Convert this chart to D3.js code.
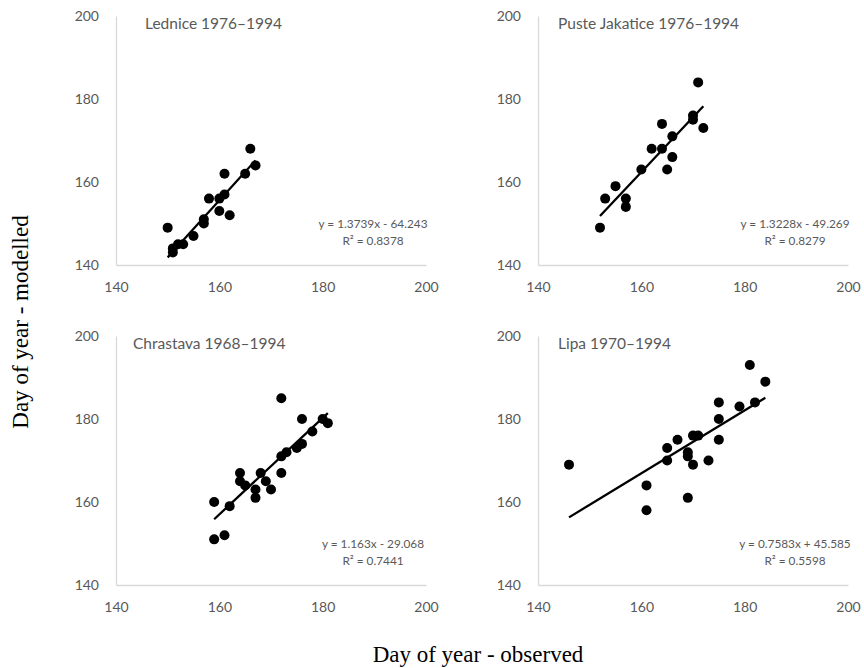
<!DOCTYPE html>
<html>
<head>
	<meta charset="utf-8" />
	<title>Day of year - observed vs modelled</title>
	<style type="text/css">
		*{margin:0px;padding:0px;}
		body{background:#fff;}
		svg text{fill:#595959;}
		.axis-title{font-family:"Liberation Serif", "DejaVu Serif", serif;fill:#000;}
	</style>
</head>
<body>
	<script type="text/javascript" src="https://cdn.jsdelivr.net/npm/d3@7"></script>
	<script type="text/javascript">

		// station names (panel titles)
		var stations = ["Lednice 1976–1994", "Puste Jakatice 1976–1994", "Chrastava 1968–1994", "Lipa 1970–1994"];

		// observed / modelled day of year
		var ledniceObs = [150, 151, 151, 152, 153, 155, 157, 157, 158, 160, 160, 161, 161, 162, 165, 166, 167];
		var ledniceMod = [149, 144, 143, 145, 145, 147, 150, 151, 156, 156, 153, 157, 162, 152, 162, 168, 164];

		var pusteObs = [152, 153, 155, 157, 157, 160, 162, 164, 164, 165, 166, 166, 170, 170, 171, 172];
		var pusteMod = [149, 156, 159, 156, 154, 163, 168, 168, 174, 163, 171, 166, 176, 175, 184, 173];

		var chrastavaObs = [159, 159, 161, 162, 164, 164, 165, 167, 167, 168, 169, 170, 172, 172, 172, 173, 175, 176, 176, 178, 180, 181];
		var chrastavaMod = [160, 151, 152, 159, 167, 165, 164, 163, 161, 167, 165, 163, 185, 167, 171, 172, 173, 174, 180, 177, 180, 179];

		var lipaObs = [146, 161, 161, 165, 165, 167, 169, 169, 169, 170, 170, 171, 173, 175, 175, 175, 179, 181, 182, 184];
		var lipaMod = [169, 164, 158, 173, 170, 175, 172, 171, 161, 176, 169, 176, 170, 184, 180, 175, 183, 193, 184, 189];

		// linear trendlines as printed on the chart
		var slopes = [1.3739, 1.3228, 1.163, 0.7583];
		var intercepts = [-64.243, -49.269, -29.068, 45.585];
		var equations = ["y = 1.3739x - 64.243", "y = 1.3228x - 49.269", "y = 1.163x - 29.068", "y = 0.7583x + 45.585"];
		var rSquared = ["R² = 0.8378", "R² = 0.8279", "R² = 0.7441", "R² = 0.5598"];

		var axisTicks = [140, 160, 180, 200];
		var axisDomain = [140, 200];

		var observed = [ledniceObs, pusteObs, chrastavaObs, lipaObs];
		var modelled = [ledniceMod, pusteMod, chrastavaMod, lipaMod];

		var svg = d3.select("body").append("svg").attr("width", 864).attr("height", 668);

		// plot areas of the four panels
		var lefts = [116, 538, 116, 538],
			tops = [16, 16, 336, 336],
			titleDx = [29, 20, 17, 20],
			pw = 310,
			ph = 249;

		for(var p = 0; p < 4; p++)
		{
			var x = d3.scaleLinear().domain(axisDomain).range([lefts[p], lefts[p] + pw]);
			var y = d3.scaleLinear().domain(axisDomain).range([tops[p] + ph, tops[p]]);
			var g = svg.append("g");

			g.append("g")
				.attr("transform", "translate(0," + (tops[p] + ph) + ")")
				.call(d3.axisBottom(x).tickValues(axisTicks).tickSize(0).tickSizeOuter(0).tickPadding(17));
			g.append("g")
				.attr("transform", "translate(" + lefts[p] + ",0)")
				.call(d3.axisLeft(y).tickValues(axisTicks).tickSize(0).tickSizeOuter(0).tickPadding(17));

			g.selectAll(".domain").attr("stroke", "#d9d9d9").attr("stroke-width", 1.3);
			g.selectAll(".tick text")
				.attr("fill", "#595959")
				.style("font-family", "Lato, 'Open Sans', sans-serif")
				.style("font-size", "14px");

			// panel title
			g.append("text")
				.attr("x", lefts[p] + titleDx[p])
				.attr("y", tops[p] + 13)
				.style("font-family", "Lato, 'Open Sans', sans-serif")
				.style("font-size", "15.5px")
				.text(stations[p]);

			// trendline over the observed range
			var ext = d3.extent(observed[p]);
			g.append("line")
				.attr("x1", x(ext[0]))
				.attr("y1", y(slopes[p] * ext[0] + intercepts[p]))
				.attr("x2", x(ext[1]))
				.attr("y2", y(slopes[p] * ext[1] + intercepts[p]))
				.attr("stroke", "#000")
				.attr("stroke-width", 2.3);

			g.selectAll("circle")
				.data(observed[p]).enter().append("circle")
				.attr("cx", function(d){return x(d)})
				.attr("cy", function(d, i){return y(modelled[p][i])})
				.attr("r", 5)
				.attr("fill", "#000");

			// equation label
			var ex = lefts[p] + pw - 53, ey = tops[p] + ph - 37;
			g.append("text")
				.attr("x", ex).attr("y", ey)
				.attr("text-anchor", "middle")
				.style("font-family", "Lato, 'Open Sans', sans-serif")
				.style("font-size", "11.8px")
				.text(equations[p]);
			g.append("text")
				.attr("x", ex).attr("y", ey + 16.5)
				.attr("text-anchor", "middle")
				.style("font-family", "Lato, 'Open Sans', sans-serif")
				.style("font-size", "11.8px")
				.text(rSquared[p]);
		}

		svg.append("text")
			.attr("class", "axis-title")
			.attr("transform", "translate(28,322) rotate(-90)")
			.attr("text-anchor", "middle")
			.style("font-size", "23px")
			.text("Day of year - modelled");

		svg.append("text")
			.attr("class", "axis-title")
			.attr("x", 478).attr("y", 662)
			.attr("text-anchor", "middle")
			.style("font-size", "23px")
			.text("Day of year - observed");

	</script>
</body>
</html>
